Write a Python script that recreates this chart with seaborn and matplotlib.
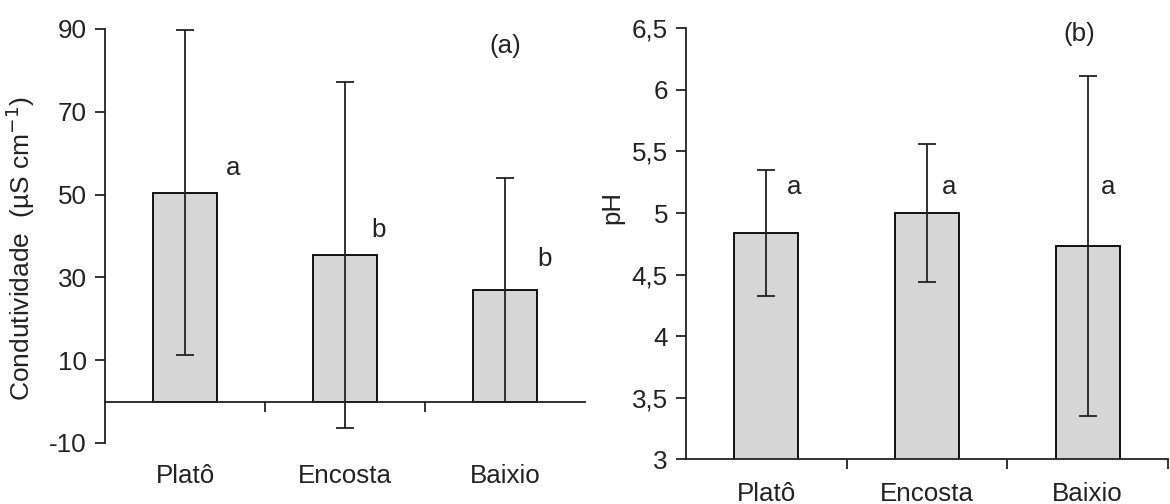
import numpy as np
import matplotlib
matplotlib.use("Agg")
import matplotlib.pyplot as plt
from matplotlib.ticker import FixedLocator
import seaborn as sns

sns.set_theme(style="white")
plt.rcParams["font.family"] = ["Liberation Sans", "DejaVu Sans"]
plt.rcParams["axes.unicode_minus"] = False

# Landscape positions
categories = ["Platô", "Encosta", "Baixio"]

# (a) electrical conductivity, mean and standard deviation
cond_mean = [50.5, 35.5, 27.0]
cond_sd = [39.2, 41.8, 27.0]
cond_letters = ["a", "b", "b"]
cond_ticks = [-10, 10, 30, 50, 70, 90]

# (b) pH, mean and standard deviation
ph_mean = [4.84, 5.00, 4.73]
ph_sd = [0.51, 0.56, 1.38]
ph_letters = ["a", "a", "a"]
ph_ticks = [3, 3.5, 4, 4.5, 5, 5.5, 6, 6.5]
ph_ticklabels = ["3", "3,5", "4", "4,5", "5", "5,5", "6", "6,5"]

BAR_FILL = "#d6d6d6"
INK = "#222222"
FS = 18.7

fig = plt.figure(figsize=(11.7, 5.04), dpi=100)
ax1 = fig.add_axes([105 / 1170, 1 - 443 / 504, 480 / 1170, 414 / 504])
ax2 = fig.add_axes([686 / 1170, 1 - 459.3 / 504, 482 / 1170, 431 / 504])


def draw_panel(ax, means, sds, letters, letter_pos):
    sns.barplot(x=categories, y=means, ax=ax, color=BAR_FILL, saturation=1,
                edgecolor="black", linewidth=1.3, width=0.4, errorbar=None)
    x = np.arange(len(categories))
    ax.errorbar(x, means, yerr=sds, fmt="none", ecolor=INK,
                elinewidth=1.3, capsize=6.5, capthick=1.3, zorder=5)
    for xi, lab, (dx, yv) in zip(x, letters, letter_pos):
        ax.text(xi + dx, yv, lab, fontsize=FS, ha="center", va="center",
                color=INK)
    ax.set_xlim(-0.5, 2.5)
    for side in ("top", "right"):
        ax.spines[side].set_visible(False)
    for side in ("left", "bottom"):
        ax.spines[side].set_color(INK)
        ax.spines[side].set_linewidth(1.3)
    ax.set_xlabel("")
    ax.tick_params(axis="x", which="major", length=0, labelsize=FS,
                   colors=INK)
    ax.tick_params(axis="y", which="major", length=7, width=1.3, direction="out",
                   labelsize=FS, colors=INK, left=True, pad=6)
    ax.tick_params(axis="x", which="minor", length=7, width=1.3,
                   direction="out", bottom=True, color=INK)


# Panel (a)
draw_panel(ax1, cond_mean, cond_sd, cond_letters,
           [(0.3, 56.5), (0.21, 41.5), (0.25, 34.5)])
ax1.set_ylim(-10, 90)
ax1.set_yticks(cond_ticks)
ax1.spines["left"].set_bounds(-10, 90)
ax1.spines["bottom"].set_position(("data", 0))
ax1.xaxis.set_minor_locator(FixedLocator([0.5, 1.5]))
ax1.tick_params(axis="x", which="major", pad=45)
ax1.set_ylabel("Condutividade  (µS cm$^{-1}$)", fontsize=19, color=INK)
ax1.yaxis.set_label_coords(-0.142, 0.47)
ax1.text(2.0, 86, "(a)", fontsize=FS, ha="center", va="center", color=INK)

# Panel (b)
draw_panel(ax2, ph_mean, ph_sd, ph_letters,
           [(0.17, 5.21), (0.14, 5.21), (0.13, 5.21)])
ax2.set_ylim(3, 6.5)
ax2.set_yticks(ph_ticks)
ax2.set_yticklabels(ph_ticklabels)
ax2.xaxis.set_minor_locator(FixedLocator([0.5, 1.5, 2.5]))
ax2.tick_params(axis="x", which="major", pad=16)
ax2.set_ylabel("pH", fontsize=18.5, color=INK)
ax2.yaxis.set_label_coords(-0.128, 0.585)
ax2.text(1.95, 6.45, "(b)", fontsize=FS, ha="center", va="center", color=INK)

fig.savefig("out.png", dpi=100, facecolor="white")
